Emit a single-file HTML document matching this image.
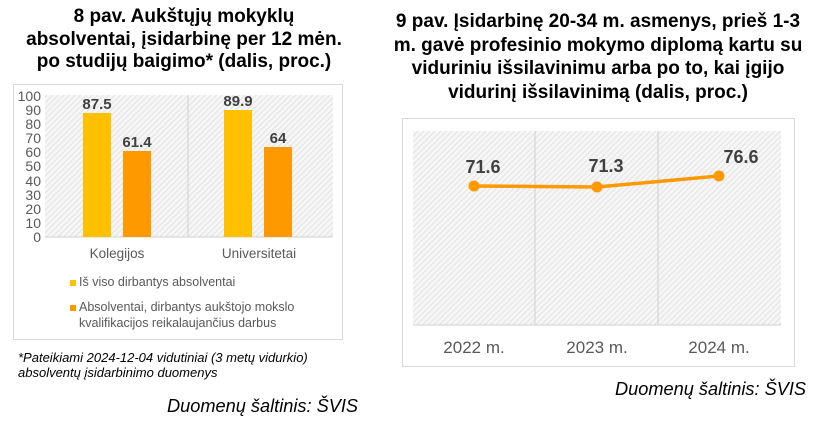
<!DOCTYPE html>
<html><head><meta charset="utf-8"><style>
body{margin:0;width:825px;height:422px;background:#fff;position:relative;font-family:"Liberation Sans",sans-serif;overflow:hidden}
.t{position:absolute;font-weight:bold;font-size:19px;color:#000;text-align:center;line-height:22.5px}
.i{position:absolute;font-style:italic;color:#000;white-space:nowrap}
</style></head><body>
<div class="t" style="left:4px;width:360px;top:6px">8 pav. Aukštųjų mokyklų<br>absolventai, įsidarbinę per 12 mėn.<br>po studijų baigimo* (dalis, proc.)</div>
<div class="t" style="left:372px;width:452px;top:10px;line-height:23.5px">9 pav. Įsidarbinę 20-34 m. asmenys, prieš 1-3<br>m. gavė profesinio mokymo diplomą kartu su<br>viduriniu išsilavinimu arba po to, kai įgijo<br>vidurinį išsilavinimą (dalis, proc.)</div>
<svg width="825" height="422" style="position:absolute;left:0;top:0" font-family="Liberation Sans, sans-serif">
<defs><pattern id="h" width="4" height="4" patternUnits="userSpaceOnUse" patternTransform="rotate(45)"><rect width="4" height="4" fill="#f6f6f6"/><line x1="0" y1="0" x2="0" y2="4" stroke="#dcdcdc" stroke-width="1.5"/></pattern></defs>
<rect x="13.5" y="84.5" width="329" height="255" fill="#fff" stroke="#d9d9d9"/>
<rect x="45" y="95" width="288" height="142" fill="url(#h)"/>
<line x1="188" y1="95" x2="188" y2="237" stroke="#d0d0d0"/>
<line x1="45" y1="237" x2="333" y2="237" stroke="#d0d0d0"/>
<g font-size="14" fill="#595959" text-anchor="end">
<text x="41" y="242">0</text><text x="41" y="228">10</text><text x="41" y="214">20</text><text x="41" y="200">30</text><text x="41" y="186">40</text><text x="41" y="171">50</text><text x="41" y="157">60</text><text x="41" y="143">70</text><text x="41" y="129">80</text><text x="41" y="115">90</text><text x="41" y="101">100</text></g>
<rect x="83" y="113" width="28" height="124" fill="#ffc000"/>
<rect x="123" y="151" width="28" height="86" fill="#ff9900"/>
<rect x="224" y="110" width="28" height="127" fill="#ffc000"/>
<rect x="264" y="147" width="28" height="90" fill="#ff9900"/>
<g font-size="15" font-weight="bold" fill="#404040" text-anchor="middle">
<text x="97" y="109">87.5</text><text x="137" y="147">61.4</text><text x="238" y="106">89.9</text><text x="278" y="143">64</text></g>
<g font-size="13.5" fill="#595959" text-anchor="middle"><text x="117" y="258">Kolegijos</text><text x="259" y="258">Universitetai</text></g>
<rect x="70" y="280" width="6" height="6" fill="#ffc000"/>
<rect x="70" y="305" width="6" height="6" fill="#ff9900"/>
<g font-size="12.5" fill="#595959"><text x="79" y="286">Iš viso dirbantys absolventai</text><text x="79" y="311">Absolventai, dirbantys aukštojo mokslo</text><text x="79" y="327">kvalifikacijos reikalaujančius darbus</text></g>
<rect x="402.5" y="118.5" width="392" height="248" fill="#fff" stroke="#d9d9d9"/>
<rect x="413" y="131" width="368" height="194" fill="url(#h)"/>
<line x1="535" y1="131" x2="535" y2="325" stroke="#d0d0d0"/>
<line x1="658" y1="131" x2="658" y2="325" stroke="#d0d0d0"/>
<line x1="413" y1="325" x2="781" y2="325" stroke="#d0d0d0"/>
<polyline points="474,186 597,187 719,176" fill="none" stroke="#ff9900" stroke-width="3.5"/>
<circle cx="474" cy="186" r="5.5" fill="#ff9900"/><circle cx="597" cy="187" r="5.5" fill="#ff9900"/><circle cx="719" cy="176" r="5.5" fill="#ff9900"/>
<g font-size="18" font-weight="bold" fill="#404040" text-anchor="middle"><text x="483" y="173">71.6</text><text x="606" y="172">71.3</text><text x="741" y="163">76.6</text></g>
<g font-size="17" fill="#595959" text-anchor="middle"><text x="474" y="353">2022 m.</text><text x="597" y="353">2023 m.</text><text x="719" y="353">2024 m.</text></g>
</svg>
<div class="i" style="left:18px;top:350px;font-size:13px;line-height:15px">*Pateikiami 2024-12-04 vidutiniai (3 metų vidurkio)<br>absolventų įsidarbinimo duomenys</div>
<div class="i" style="left:167px;top:396px;font-size:18.2px">Duomenų šaltinis: ŠVIS</div>
<div class="i" style="left:615px;top:379px;font-size:18.2px">Duomenų šaltinis: ŠVIS</div>
</body></html>
